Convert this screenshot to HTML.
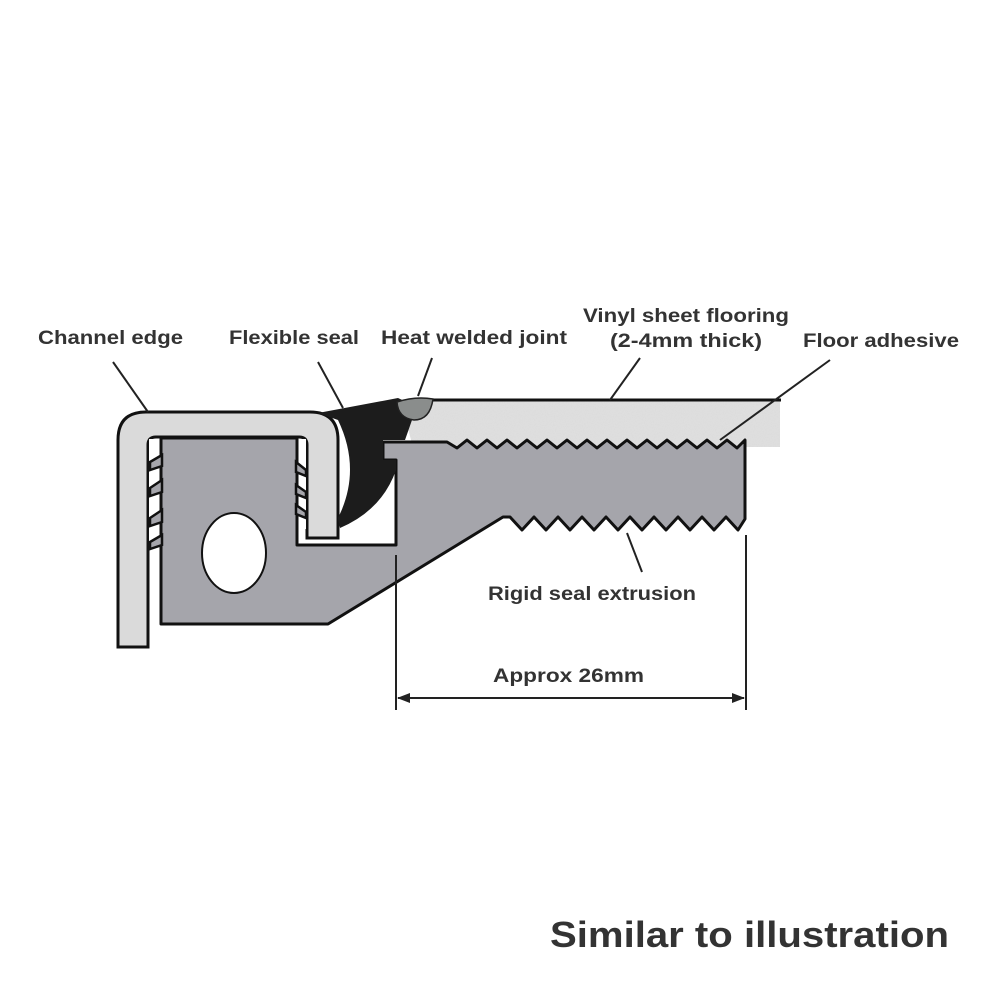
<!DOCTYPE html>
<html><head><meta charset="utf-8"><style>
html,body{margin:0;padding:0;background:#fff;}
svg{display:block}
text{font-family:"Liberation Sans",sans-serif;font-weight:bold;fill:#333;}
</style></head><body>
<svg width="1000" height="1000" viewBox="0 0 1000 1000" xmlns="http://www.w3.org/2000/svg">
<defs>
<filter id="spk" x="0" y="0" width="100%" height="100%">
<feTurbulence type="fractalNoise" baseFrequency="0.9" numOctaves="2" seed="3"/>
<feColorMatrix type="matrix" values="0 0 0 0 0.78  0 0 0 0 0.78  0 0 0 0 0.78  0 0 0 -1.2 0.9"/>
<feComposite in2="SourceGraphic" operator="in"/>
</filter>
</defs>
<!-- vinyl flooring -->
<path d="M405,418 Q410,400 432,400 L780,400 L780,447 L413,447 Z" fill="#dcdcdc"/>
<path d="M405,418 Q410,400 432,400 L780,400 L780,447 L413,447 Z" fill="#fff" filter="url(#spk)" opacity="0.6"/>
<line x1="428" y1="400" x2="781" y2="400" stroke="#111" stroke-width="3"/>
<!-- channel edge -->
<path d="M118,647 L118,440 Q118,412 146,412 L310,412 Q338,412 338,440 L338,538 L307,538 L307,445 Q307,437 299,437 L156,437 Q148,437 148,445 L148,647 Z" fill="#dadada" stroke="#111" stroke-width="3"/>
<!-- channel inner gaps -->
<rect x="149" y="439" width="12" height="110" fill="#fff"/>
<rect x="296" y="439" width="10" height="90" fill="#fff"/>
<!-- rigid extrusion -->
<path d="M161,438 L297,438 L297,545 L396,545 L396,460 L383,460 L383,442 L447,442
L457,448 L467,440 L477,448 L487,440 L497,448 L507,440 L517,448 L527,440 L537,448 L547,440 L557,448 L567,440 L577,448 L587,440 L597,448 L607,440 L617,448 L627,440 L637,448 L647,440 L657,448 L667,440 L677,448 L687,440 L697,448 L707,440 L717,448 L727,440 L737,448 L745,440
L745,519 L738,530 L726,517 L714,530 L702,517 L690,530 L678,517 L666,530 L654,517 L642,530 L630,517 L618,530 L606,517 L594,530 L582,517 L570,530 L558,517 L546,530 L534,517 L522,530 L510,517 L503,517 L328,624 L161,624 Z" fill="#a5a5ab" stroke="#111" stroke-width="3" stroke-linejoin="round"/>
<!-- side teeth -->
<g fill="#a5a5ab" stroke="#111" stroke-width="2.5">
<path d="M162,455 L150,462 L150,470 L162,466 Z"/>
<path d="M162,480 L150,488 L150,496 L162,492 Z"/>
<path d="M162,510 L150,518 L150,526 L162,522 Z"/>
<path d="M162,535 L150,542 L150,549 L162,545 Z"/>
<path d="M296,462 L306,470 L306,476 L296,472 Z"/>
<path d="M296,485 L306,492 L306,498 L296,494 Z"/>
<path d="M296,505 L306,512 L306,518 L296,514 Z"/>
</g>
<!-- hole -->
<ellipse cx="234" cy="553" rx="32" ry="40" fill="#fff" stroke="#111" stroke-width="2"/>
<!-- flexible seal -->
<path d="M318,413 L398,398 L413,405 L412,420 L405,440 L383,440 L383,460 L396,460 L396,470 Q382,510 340,528 L338,518 Q362,470 338,420 Z" fill="#1c1c1c"/>
<path d="M339,424 Q358,460 341,512 Q352,470 339,424 Z" fill="#fff"/>
<!-- heat weld -->
<path d="M397,402 Q415,396 433,399 Q430,420 414,420 Q398,418 397,402 Z" fill="#8a8d8c" stroke="#222" stroke-width="1.5"/>
<!-- leader lines -->
<g stroke="#222" stroke-width="2" fill="none">
<line x1="113" y1="362" x2="148" y2="412"/>
<line x1="318" y1="362" x2="343" y2="408"/>
<line x1="432" y1="358" x2="418" y2="396"/>
<line x1="640" y1="358" x2="610" y2="400"/>
<line x1="830" y1="360" x2="720" y2="440"/>
<line x1="627" y1="533" x2="642" y2="572"/>
<line x1="396" y1="555" x2="396" y2="710"/>
<line x1="746" y1="535" x2="746" y2="710"/>
<line x1="398" y1="698" x2="744" y2="698"/>
</g>
<path d="M397,698 L410,693 L410,703 Z" fill="#222"/>
<path d="M745,698 L732,693 L732,703 Z" fill="#222"/>
<!-- labels -->
<text x="38" y="344" font-size="19" textLength="145" lengthAdjust="spacingAndGlyphs">Channel edge</text>
<text x="229" y="344" font-size="19" textLength="130" lengthAdjust="spacingAndGlyphs">Flexible seal</text>
<text x="381" y="344" font-size="19" textLength="186" lengthAdjust="spacingAndGlyphs">Heat welded joint</text>
<text x="583" y="322" font-size="19" textLength="206" lengthAdjust="spacingAndGlyphs">Vinyl sheet flooring</text>
<text x="610" y="347" font-size="19" textLength="152" lengthAdjust="spacingAndGlyphs">(2-4mm thick)</text>
<text x="803" y="347" font-size="19" textLength="156" lengthAdjust="spacingAndGlyphs">Floor adhesive</text>
<text x="488" y="600" font-size="19" textLength="208" lengthAdjust="spacingAndGlyphs">Rigid seal extrusion</text>
<text x="493" y="682" font-size="19" textLength="151" lengthAdjust="spacingAndGlyphs">Approx 26mm</text>
<text x="550" y="947" font-size="36" textLength="399" lengthAdjust="spacingAndGlyphs">Similar to illustration</text>
</svg>
</body></html>
